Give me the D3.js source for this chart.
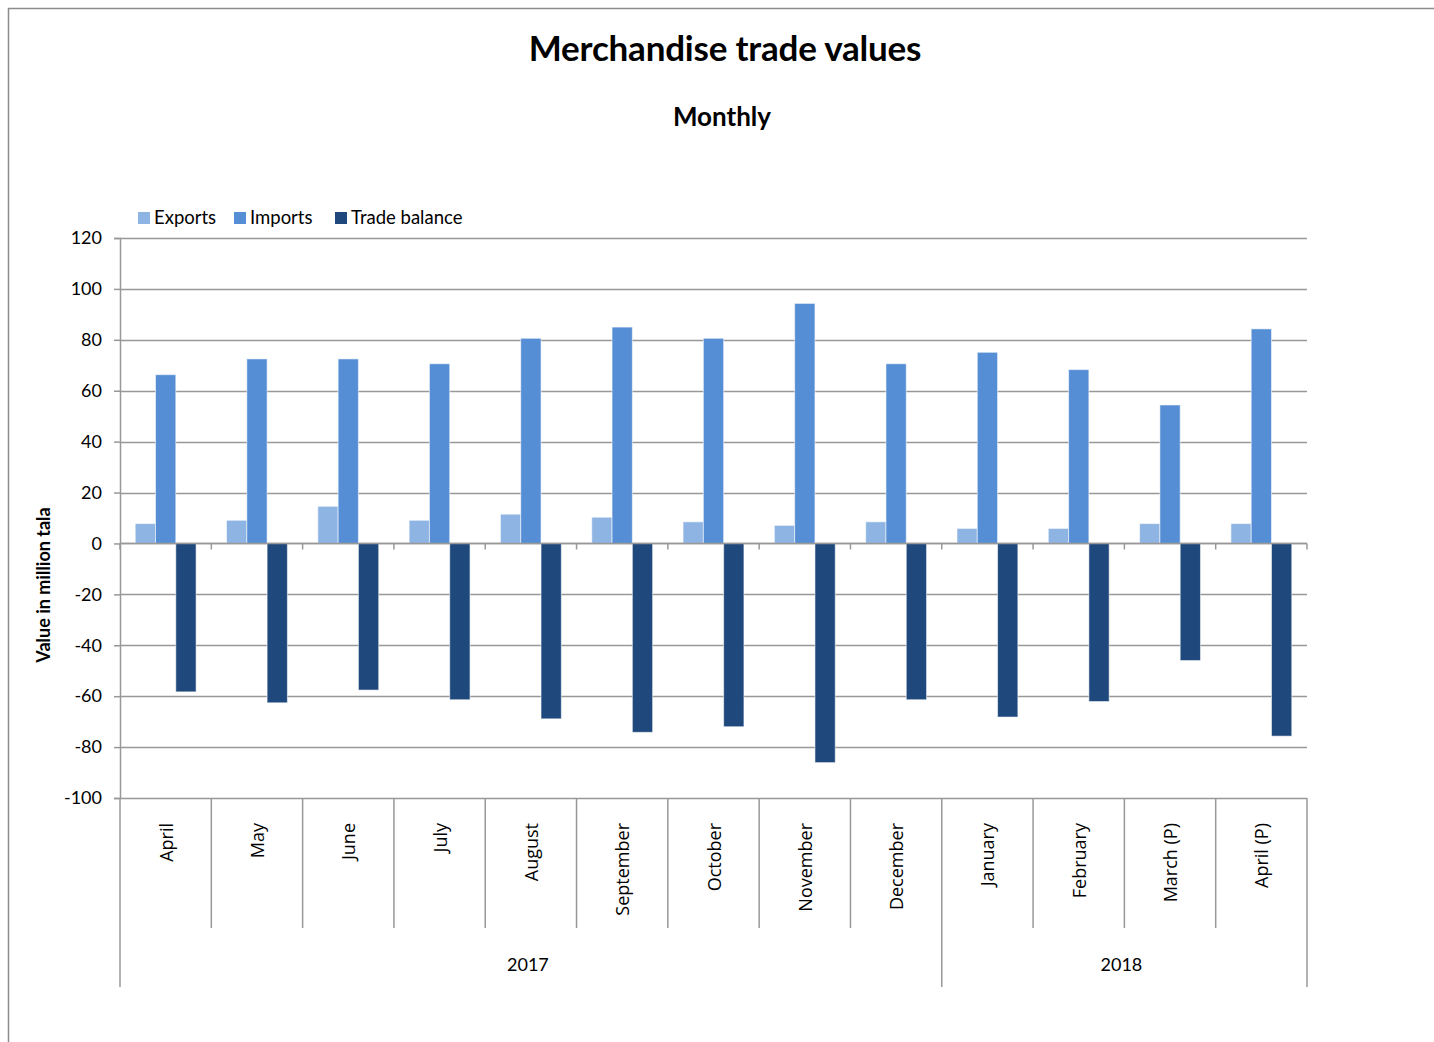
<!DOCTYPE html>
<html>
<head>
<meta charset="utf-8">
<script src="https://cdn.jsdelivr.net/npm/d3@7"></script>
<style>
body{margin:0;padding:0;background:#ffffff;}
svg{display:block;font-family:Lato, "Open Sans", sans-serif;}
</style>
</head>
<body>
<div id="chart"></div>
<script>
//values (million tala)
var months = ["April","May","June","July","August","September","October","November","December","January","February","March (P)","April (P)"];
var yearLabels = ["2017","2018"];
var yearSpans = [9,4]; //number of months under each year
var seriesNames = ["Exports","Imports","Trade balance"];
var exportsVals = [7.8,9.1,14.6,9.1,11.5,10.3,8.5,7.1,8.5,5.9,5.9,7.8,7.8];
var importsVals = [66.3,72.5,72.5,70.6,80.6,85.0,80.6,94.3,70.6,75.1,68.3,54.4,84.3];
var balanceVals = [-58.3,-62.6,-57.6,-61.4,-68.9,-74.2,-72.0,-86.1,-61.4,-68.2,-62.1,-46.0,-75.7];
var yTicks = [-100,-80,-60,-40,-20,0,20,40,60,80,100,120];

var cols = {"Exports":"#8eb4e3","Imports":"#558ed5","Trade balance":"#1f497d"};
var gridCol = "#989898";

var width = 1434, height = 1042;
var plot = {left:120, right:1307, top:238, bottom:798};

var svg = d3.select("#chart").append("svg").attr("width",width).attr("height",height);

//outer chart border (mostly off page, like the source)
svg.append("rect").attr("x",8.5).attr("y",8.5).attr("width",1450).attr("height",1060)
	.attr("fill","none").attr("stroke","#8c8c8c").attr("stroke-width",1.5);

//titles
svg.append("text").attr("x",725).attr("y",61).attr("text-anchor","middle")
	.style("font-size","35px").style("font-weight","bold").style("letter-spacing","-0.2px").text("Merchandise trade values");
svg.append("text").attr("x",722).attr("y",126).attr("text-anchor","middle")
	.style("font-size","26px").style("font-weight","bold").text("Monthly");

var x = d3.scaleBand().domain(months).range([plot.left, plot.right]).paddingInner(0).paddingOuter(0);
var gap = x.bandwidth()*1.5/4.5; //excel style gap width of 150%
var xs = d3.scaleBand().domain(seriesNames).range([gap/2, x.bandwidth()-gap/2]);
var y = d3.scaleLinear().domain([-100,120]).range([plot.bottom, plot.top]);

var layers = {};
layers.grid = svg.append("g");
layers.bars = svg.append("g");
layers.axes = svg.append("g");

//horizontal gridlines
layers.grid.selectAll("line.grid").data(yTicks).enter().append("line").classed("grid",true)
	.attr("x1",plot.left).attr("x2",plot.right)
	.attr("y1",function(d){return Math.round(y(d))+0.5}).attr("y2",function(d){return Math.round(y(d))+0.5})
	.attr("stroke",gridCol).attr("stroke-width",1.5);

//bars
var rows = months.map(function(m,i){
	return {month:m, vals:[
		{name:"Exports", v:exportsVals[i]},
		{name:"Imports", v:importsVals[i]},
		{name:"Trade balance", v:balanceVals[i]}
	]};
});

var groups = layers.bars.selectAll("g.month").data(rows).enter().append("g").classed("month",true)
	.attr("transform",function(d){return "translate(" + x(d.month) + ",0)"});

groups.selectAll("rect").data(function(d){return d.vals}).enter().append("rect")
	.attr("x",function(d){return xs(d.name)})
	.attr("width",xs.bandwidth())
	.attr("y",function(d){return y(Math.max(0,d.v))})
	.attr("height",function(d){return Math.abs(y(d.v)-y(0))})
	.attr("fill",function(d){return cols[d.name]})
	.attr("stroke","rgba(255,255,255,0.55)").attr("stroke-width",1);

//y axis -- plain hyphen for negatives, as in the source
var yAxis = d3.axisLeft(y).tickValues(yTicks).tickSize(6).tickPadding(12).tickFormat(function(d){return String(d)});
var ya = layers.axes.append("g").attr("transform","translate(" + plot.left + ",0)").call(yAxis);
ya.select(".domain").attr("stroke",gridCol).attr("stroke-width",1.5);
ya.selectAll(".tick line").attr("stroke",gridCol).attr("stroke-width",1.5);
ya.selectAll(".tick text").style("font-size","18px").style("font-family","Lato, sans-serif").attr("fill","#000");

//zero line with category ticks pointing down
layers.axes.append("line").attr("x1",plot.left).attr("x2",plot.right)
	.attr("y1",Math.round(y(0))+0.5).attr("y2",Math.round(y(0))+0.5)
	.attr("stroke",gridCol).attr("stroke-width",1.5);
var bounds = months.map(function(m){return x(m)}).concat([plot.right]);
layers.axes.selectAll("line.zt").data(bounds).enter().append("line").classed("zt",true)
	.attr("x1",function(d){return d}).attr("x2",function(d){return d})
	.attr("y1",y(0)).attr("y2",y(0)+6)
	.attr("stroke",gridCol).attr("stroke-width",1.5);

//category axis: month separators, then year separators
var monthSepBottom = 928, yearSepBottom = 987;
var yearStarts = [0];
yearSpans.forEach(function(s,i){yearStarts.push(yearStarts[i]+s)});
var yearBounds = yearStarts.map(function(k){return k < months.length ? x(months[k]) : plot.right});

layers.axes.selectAll("line.msep").data(bounds).enter().append("line").classed("msep",true)
	.attr("x1",function(d){return d}).attr("x2",function(d){return d})
	.attr("y1",plot.bottom).attr("y2",function(d){return yearBounds.indexOf(d) >= 0 ? yearSepBottom : monthSepBottom})
	.attr("stroke",gridCol).attr("stroke-width",1.5);

layers.axes.selectAll("text.month").data(months).enter().append("text").classed("month",true)
	.attr("transform",function(d){return "translate(" + (x(d)+x.bandwidth()/2+7) + "," + (plot.bottom+25) + ") rotate(-90)"})
	.attr("text-anchor","end")
	.style("font-family","'Open Sans', sans-serif").style("font-size","18px").text(function(d){return d});

layers.axes.selectAll("text.year").data(yearLabels).enter().append("text").classed("year",true)
	.attr("x",function(d,i){return (yearBounds[i]+yearBounds[i+1])/2 - 3})
	.attr("y",971).attr("text-anchor","middle")
	.style("font-size","18px").text(function(d){return d});

//y axis title
svg.append("text").attr("transform","translate(50,585) rotate(-90)").attr("text-anchor","middle")
	.style("font-size","18px").style("font-weight","bold").text("Value in million tala");

//legend
var legendX = [138,234,335];
var lg = svg.selectAll("g.legend").data(seriesNames).enter().append("g").classed("legend",true)
	.attr("transform",function(d,i){return "translate(" + legendX[i] + ",212)"});
lg.append("rect").attr("width",12).attr("height",12).attr("fill",function(d){return cols[d]});
lg.append("text").attr("x",16).attr("y",12).style("font-size","18.5px").text(function(d){return d});
</script>
</body>
</html>
